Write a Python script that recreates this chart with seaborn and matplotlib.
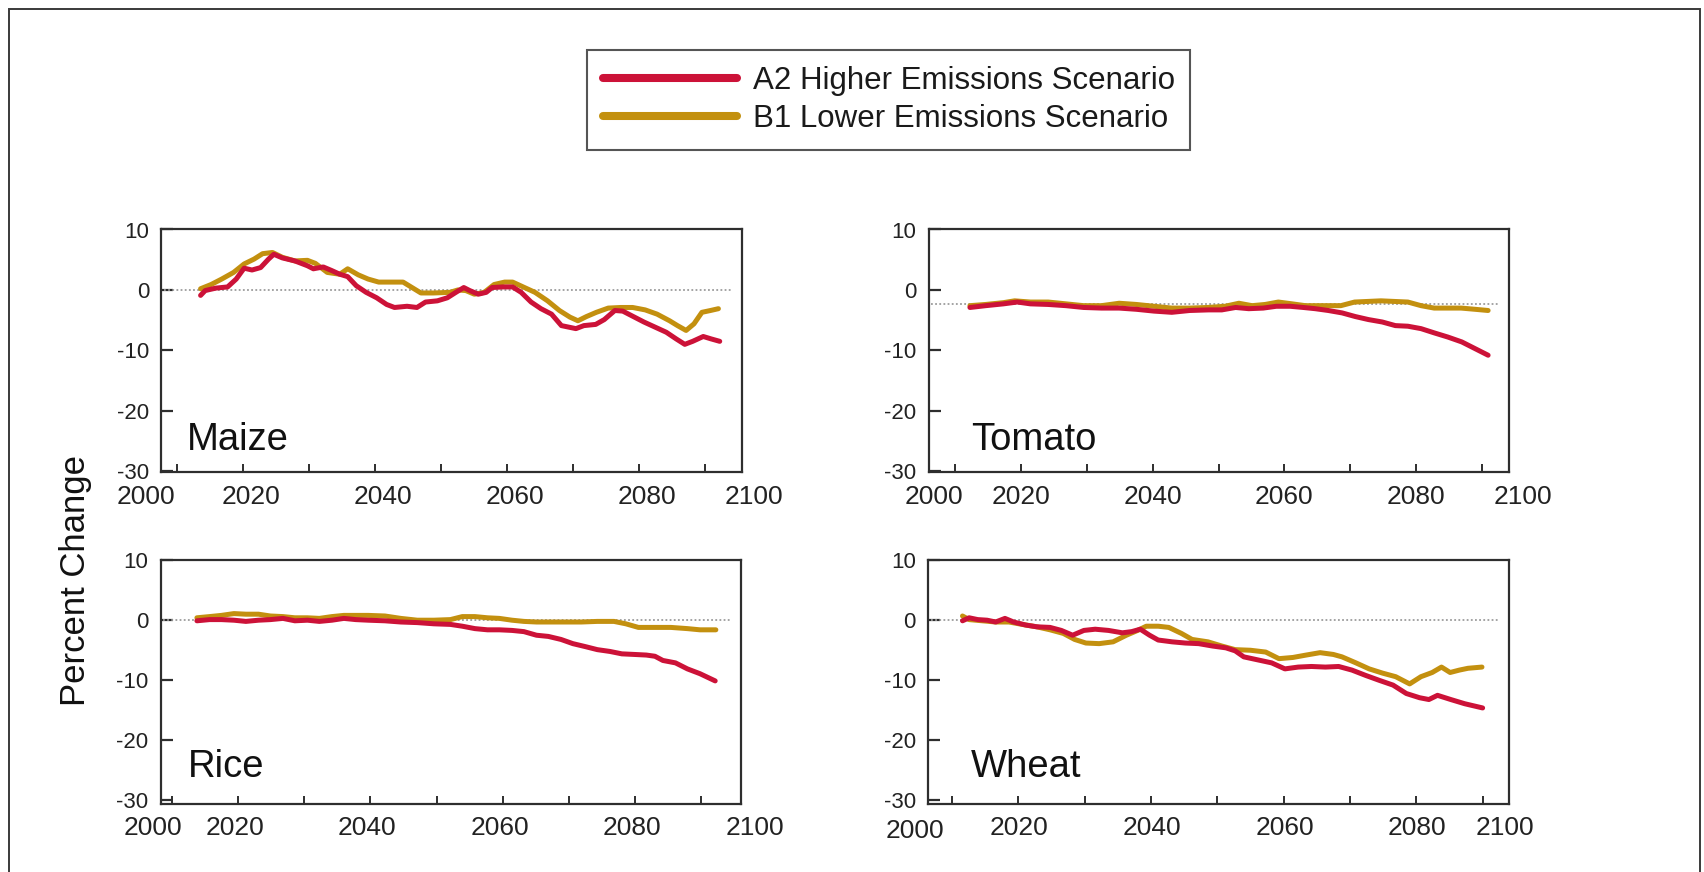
import matplotlib
matplotlib.use("Agg")
import matplotlib.pyplot as plt
from matplotlib.lines import Line2D
from matplotlib.patches import Rectangle
from matplotlib.transforms import ScaledTranslation
import pandas as pd
import seaborn as sns

# ---------------------------------------------------------------- data
crops = ["Maize", "Tomato", "Rice", "Wheat"]
scenario_a2 = "A2 Higher Emissions Scenario"
scenario_b1 = "B1 Lower Emissions Scenario"
y_ticks = [-30, -20, -10, 0, 10]
x_ticks = [2010, 2020, 2030, 2040, 2050, 2060, 2070, 2080, 2090]
x_tick_labels = ["", "2020", "", "2040", "", "2060", "", "2080", ""]
axis_end_labels = ["2000", "2100"]
reference_levels = [0.0, -2.4, 0.0, 0.0]

maize_years_a2 = [2013.6, 2014.3, 2015.9, 2017.7, 2019.0, 2020.2, 2021.4, 2022.7, 2023.9, 2024.7,
                  2026.0, 2027.9, 2029.8, 2030.7, 2032.2, 2033.5, 2034.7, 2035.9, 2037.2, 2038.7,
                  2040.3, 2041.8, 2043.0, 2044.9, 2046.4, 2047.7, 2049.5, 2051.0, 2052.3, 2053.5,
                  2054.4, 2055.7, 2056.9, 2057.8, 2059.4, 2060.9, 2062.2, 2063.7, 2065.2, 2066.8,
                  2068.3, 2070.5, 2071.7, 2073.5, 2074.8, 2076.4, 2077.6, 2079.2, 2080.8, 2082.6,
                  2084.2, 2085.7, 2087.0, 2088.2, 2089.8, 2091.0, 2092.3]
maize_a2 = [-0.9, -0.1, 0.3, 0.5, 1.8, 3.6, 3.3, 3.7, 5.1, 5.9,
            5.3, 4.8, 4.0, 3.5, 3.8, 3.2, 2.6, 2.2, 0.7, -0.4,
            -1.3, -2.4, -2.9, -2.7, -2.9, -2.0, -1.8, -1.3, -0.4, 0.4,
            -0.1, -0.7, -0.4, 0.4, 0.5, 0.5, -0.4, -2.0, -3.1, -4.0,
            -5.9, -6.4, -5.9, -5.7, -4.9, -3.4, -3.5, -4.4, -5.3, -6.2,
            -7.0, -8.1, -9.0, -8.5, -7.7, -8.1, -8.5]
maize_years_b1 = [2013.6, 2015.2, 2016.8, 2018.6, 2020.2, 2021.7, 2023.0, 2024.5, 2026.0, 2027.9,
                  2029.8, 2031.0, 2032.8, 2034.7, 2035.9, 2037.5, 2039.0, 2040.6, 2042.4, 2044.3,
                  2045.5, 2047.0, 2048.9, 2051.4, 2052.6, 2053.8, 2055.1, 2056.6, 2058.1, 2059.7,
                  2060.9, 2062.5, 2064.3, 2066.2, 2068.0, 2069.6, 2070.8, 2072.1, 2073.6, 2075.4,
                  2077.3, 2079.1, 2081.0, 2082.8, 2084.7, 2085.9, 2087.2, 2088.4, 2089.6, 2090.9,
                  2092.1]
maize_b1 = [0.2, 0.9, 1.8, 2.9, 4.3, 5.1, 6.0, 6.2, 5.4, 4.8,
            4.9, 4.4, 2.9, 2.6, 3.5, 2.5, 1.8, 1.3, 1.3, 1.3,
            0.5, -0.5, -0.5, -0.4, 0.0, -0.1, -0.7, -0.4, 0.9, 1.3,
            1.3, 0.5, -0.4, -1.8, -3.4, -4.5, -5.1, -4.4, -3.7, -3.0,
            -2.9, -2.9, -3.3, -4.0, -5.1, -5.9, -6.7, -5.6, -3.7, -3.4,
            -3.1]

tomato_years_a2 = [2012.2, 2014.6, 2017.3, 2019.4, 2021.4, 2024.1, 2026.8, 2029.5, 2032.2, 2034.9,
                   2037.5, 2040.2, 2042.9, 2045.6, 2048.5, 2050.5, 2052.6, 2054.6, 2056.8, 2058.8,
                   2060.9, 2062.9, 2064.7, 2066.7, 2068.8, 2070.8, 2072.8, 2074.9, 2076.9, 2078.8,
                   2080.8, 2082.8, 2084.9, 2087.0, 2089.0, 2091.0]
tomato_a2 = [-2.9, -2.6, -2.3, -2.0, -2.3, -2.4, -2.6, -2.9, -3.0, -3.0,
             -3.2, -3.5, -3.7, -3.4, -3.3, -3.3, -2.9, -3.1, -3.0, -2.7,
             -2.7, -2.9, -3.1, -3.4, -3.8, -4.4, -4.9, -5.3, -5.9, -6.0,
             -6.4, -7.1, -7.8, -8.6, -9.7, -10.8]
tomato_years_b1 = [2012.2, 2014.6, 2017.3, 2019.0, 2021.4, 2024.1, 2026.8, 2029.5, 2032.2, 2034.9,
                   2037.5, 2040.2, 2042.9, 2045.6, 2048.3, 2051.0, 2053.1, 2055.1, 2057.1, 2059.1,
                   2061.2, 2063.2, 2065.9, 2068.6, 2070.7, 2072.7, 2074.7, 2076.7, 2078.8, 2080.8,
                   2082.8, 2084.9, 2086.9, 2089.0, 2091.0]
tomato_b1 = [-2.6, -2.4, -2.1, -1.8, -2.0, -2.0, -2.3, -2.6, -2.6, -2.2,
             -2.4, -2.7, -3.0, -3.0, -2.9, -2.7, -2.2, -2.6, -2.4, -2.0,
             -2.3, -2.6, -2.6, -2.6, -2.0, -1.9, -1.8, -1.9, -2.0, -2.6,
             -3.0, -3.0, -3.0, -3.2, -3.4]

rice_years_a2 = [2013.8, 2015.7, 2017.5, 2019.4, 2021.2, 2023.1, 2024.9, 2026.8, 2028.6, 2030.5,
                 2032.3, 2034.2, 2036.0, 2037.8, 2039.7, 2042.2, 2044.6, 2047.1, 2049.6, 2052.1,
                 2053.9, 2055.8, 2057.7, 2059.5, 2061.4, 2063.2, 2065.1, 2066.9, 2068.8, 2070.6,
                 2072.5, 2074.3, 2076.2, 2078.0, 2079.9, 2081.7, 2083.0, 2084.2, 2086.1, 2087.9,
                 2089.8, 2092.1]
rice_a2 = [-0.1, 0.1, 0.1, 0.0, -0.2, 0.0, 0.1, 0.3, -0.1, 0.0,
           -0.2, 0.0, 0.3, 0.1, 0.0, -0.1, -0.3, -0.4, -0.6, -0.7,
           -1.0, -1.4, -1.6, -1.6, -1.7, -1.9, -2.5, -2.7, -3.2, -3.9,
           -4.4, -4.9, -5.2, -5.6, -5.7, -5.8, -6.0, -6.7, -7.1, -8.1,
           -8.9, -10.1]
rice_years_b1 = [2013.8, 2015.7, 2017.5, 2019.4, 2021.2, 2023.1, 2024.9, 2026.8, 2028.6, 2030.5,
                 2032.3, 2034.2, 2036.0, 2037.8, 2039.7, 2042.2, 2044.6, 2047.1, 2049.6, 2052.1,
                 2053.9, 2055.8, 2057.7, 2059.5, 2061.4, 2063.2, 2065.1, 2066.9, 2069.4, 2071.9,
                 2074.3, 2076.8, 2078.6, 2080.5, 2083.0, 2085.4, 2087.9, 2089.8, 2092.2]
rice_b1 = [0.4, 0.6, 0.8, 1.1, 1.0, 1.0, 0.7, 0.6, 0.4, 0.4,
           0.3, 0.6, 0.8, 0.8, 0.8, 0.7, 0.3, 0.0, 0.0, 0.1,
           0.6, 0.6, 0.4, 0.3, 0.0, -0.2, -0.3, -0.3, -0.3, -0.3,
           -0.2, -0.2, -0.6, -1.2, -1.2, -1.2, -1.4, -1.6, -1.6]

wheat_years_a2 = [2011.6, 2012.6, 2013.9, 2015.3, 2016.6, 2018.0, 2019.3, 2021.1, 2022.8, 2024.8,
                  2026.5, 2028.2, 2029.9, 2031.6, 2033.6, 2035.7, 2037.1, 2038.4, 2039.8, 2041.1,
                  2043.2, 2045.2, 2047.2, 2049.3, 2051.3, 2052.7, 2054.0, 2056.1, 2058.2, 2060.2,
                  2062.2, 2064.2, 2066.3, 2068.3, 2070.3, 2072.4, 2074.4, 2076.5, 2078.5, 2080.5,
                  2081.9, 2083.2, 2085.2, 2087.3, 2090.0]
wheat_a2 = [-0.1, 0.4, 0.1, 0.0, -0.3, 0.3, -0.3, -0.8, -1.1, -1.2,
            -1.7, -2.5, -1.7, -1.5, -1.7, -2.1, -1.9, -1.5, -2.5, -3.3,
            -3.6, -3.8, -3.9, -4.3, -4.6, -5.1, -6.1, -6.6, -7.1, -8.1,
            -7.8, -7.7, -7.8, -7.7, -8.3, -9.2, -10.0, -10.8, -12.2, -12.9,
            -13.2, -12.5, -13.2, -13.9, -14.6]
wheat_years_b1 = [2011.6, 2012.6, 2014.6, 2016.6, 2018.6, 2020.6, 2022.8, 2024.8, 2026.8, 2028.5,
                  2030.2, 2032.2, 2034.3, 2036.3, 2038.0, 2039.3, 2041.1, 2042.7, 2044.6, 2046.2,
                  2048.6, 2050.7, 2052.7, 2055.0, 2057.3, 2059.3, 2061.4, 2063.4, 2065.5, 2067.5,
                  2068.8, 2070.9, 2072.9, 2074.9, 2076.9, 2079.0, 2080.7, 2082.4, 2083.8, 2085.1,
                  2086.5, 2087.8, 2089.9]
wheat_b1 = [0.7, 0.1, -0.1, -0.3, -0.3, -0.7, -1.1, -1.6, -2.2, -3.2,
            -3.8, -3.9, -3.6, -2.5, -1.7, -1.0, -1.0, -1.2, -2.2, -3.2,
            -3.6, -4.3, -4.9, -5.0, -5.3, -6.4, -6.2, -5.8, -5.4, -5.7,
            -6.1, -7.1, -8.1, -8.8, -9.4, -10.6, -9.4, -8.7, -7.8, -8.7,
            -8.3, -8.0, -7.8]

series = {
    ("Maize", scenario_a2): (maize_years_a2, maize_a2),
    ("Maize", scenario_b1): (maize_years_b1, maize_b1),
    ("Tomato", scenario_a2): (tomato_years_a2, tomato_a2),
    ("Tomato", scenario_b1): (tomato_years_b1, tomato_b1),
    ("Rice", scenario_a2): (rice_years_a2, rice_a2),
    ("Rice", scenario_b1): (rice_years_b1, rice_b1),
    ("Wheat", scenario_a2): (wheat_years_a2, wheat_a2),
    ("Wheat", scenario_b1): (wheat_years_b1, wheat_b1),
}
rows = []
for (crop, scen), (yrs, vals) in series.items():
    for yr, v in zip(yrs, vals):
        rows.append({"crop": crop, "scenario": scen, "year": yr, "change": v})
df = pd.DataFrame(rows)

# ---------------------------------------------------------------- style
sns.set_theme(style="white")
plt.rcParams["font.family"] = ["Liberation Sans", "DejaVu Sans"]
plt.rcParams["axes.unicode_minus"] = False

RED = "#CC1238"
GOLD = "#C3900F"
palette = {scenario_a2: RED, scenario_b1: GOLD}
INK = "#222222"
SPINE = "#2e2e2e"

W, H = 1704, 872
fig = plt.figure(figsize=(W / 100, H / 100), dpi=100)
fig.patch.set_facecolor("white")

# panel geometry in pixels: left, top, right, bottom
layout = {
    "Maize":  dict(box=(161, 229.5, 741.5, 472.5), xlim=(2007.6, 2095.6), ylim=(-30.2, 10.0),
                   tick_dx=8, end_dx=(-15, 12.5), end_dy=(0, 0), name_at=(26, 22.5)),
    "Tomato": dict(box=(928.5, 229.5, 1508.5, 472.5), xlim=(2005.9, 2094.1), ylim=(-30.2, 10.0),
                   tick_dx=0, end_dx=(5, 14), end_dy=(0, 0), name_at=(43, 22.5)),
    "Rice":   dict(box=(160.5, 559.5, 741, 803.5), xlim=(2008.3, 2096.0), ylim=(-30.5, 10.1),
                   tick_dx=-3, end_dx=(-8, 14), end_dy=(0, 0), name_at=(27.5, 26.8)),
    "Wheat":  dict(box=(928, 559.5, 1508.5, 803.5), xlim=(2006.4, 2093.9), ylim=(-30.5, 10.1),
                   tick_dx=1, end_dx=(-13, -4), end_dy=(3, 0), name_at=(43, 26.8)),
}

PX = 0.72  # points per pixel at 100 dpi

for crop, ref in zip(crops, reference_levels):
    g = layout[crop]
    l, t, r, b = g["box"]
    ax = fig.add_axes([l / W, 1 - b / H, (r - l) / W, (b - t) / H])
    ax.set_facecolor("white")

    ax.axhline(ref, xmin=0.005, xmax=0.982, color="#9c9c9c", lw=1.3,
               ls=(0, (1.0, 1.3)), zorder=1)

    sub = df[df["crop"] == crop]
    sns.lineplot(data=sub, x="year", y="change", hue="scenario",
                 hue_order=[scenario_b1, scenario_a2], palette=palette,
                 estimator=None, linewidth=3.6, legend=False, ax=ax, zorder=3)

    ax.set_xlim(*g["xlim"])
    ax.set_ylim(*g["ylim"])
    ax.set_xlabel("")
    ax.set_ylabel("")
    ax.set_yticks(y_ticks)
    ax.set_yticklabels([str(v) for v in y_ticks])
    ax.set_xticks(x_ticks)
    ax.set_xticklabels(x_tick_labels)

    for s in ax.spines.values():
        s.set_visible(True)
        s.set_color(SPINE)
        s.set_linewidth(1.6)

    ax.tick_params(axis="y", direction="in", length=12 * PX, width=1.6,
                   color=SPINE, pad=12 * PX, labelsize=16, labelcolor=INK,
                   left=True, right=False)
    ax.tick_params(axis="x", direction="in", length=8 * PX, width=1.4,
                   color=SPINE, pad=12 * PX, labelsize=19, labelcolor=INK,
                   bottom=True, top=False)

    shift = ScaledTranslation(g["tick_dx"] / 100, 0, fig.dpi_scale_trans)
    for tk in ax.xaxis.get_major_ticks():
        tk.label1.set_transform(tk.label1.get_transform() + shift)

    for frac, txt, dx, dy in zip((0, 1), axis_end_labels, g["end_dx"], g["end_dy"]):
        ax.annotate(txt, xy=(frac, 0), xycoords="axes fraction",
                    xytext=(dx * PX, -(12 + dy) * PX), textcoords="offset points",
                    ha="center", va="top", fontsize=19, color=INK,
                    annotation_clip=False)

    nx, ny = g["name_at"]
    ax.annotate(crop, xy=(0, 0), xycoords="axes fraction",
                xytext=(nx * PX, ny * PX), textcoords="offset points",
                ha="left", va="baseline", fontsize=27.5, color="#111111")

# shared y label
fig.text(75 / W, 1 - 580 / H, "Percent Change", rotation=90,
         ha="center", va="center", fontsize=25, color="#111111")

# legend
handles = [Line2D([], [], color=RED, lw=5.8, solid_capstyle="round"),
           Line2D([], [], color=GOLD, lw=5.8, solid_capstyle="round")]
leg = fig.legend(handles, [scenario_a2, scenario_b1], loc="upper left",
                 bbox_to_anchor=(587 / W, 1 - 50 / H), bbox_transform=fig.transFigure,
                 borderaxespad=0, frameon=True, fancybox=False, framealpha=1,
                 edgecolor="#555555", fontsize=22.5, handlelength=4.3,
                 handletextpad=0.5, borderpad=0.5, labelspacing=0.28)
leg.get_frame().set_linewidth(1.5)
for txt in leg.get_texts():
    txt.set_color("#1a1a1a")

# outer frame (open at the bottom edge)
fig.add_artist(Rectangle((9 / W, -0.05), (1700 - 9) / W, 1.05 - 9 / H,
                         transform=fig.transFigure, fill=False,
                         edgecolor="#3a3a3a", linewidth=1.4))

fig.savefig("out.png", dpi=100, facecolor="white")
